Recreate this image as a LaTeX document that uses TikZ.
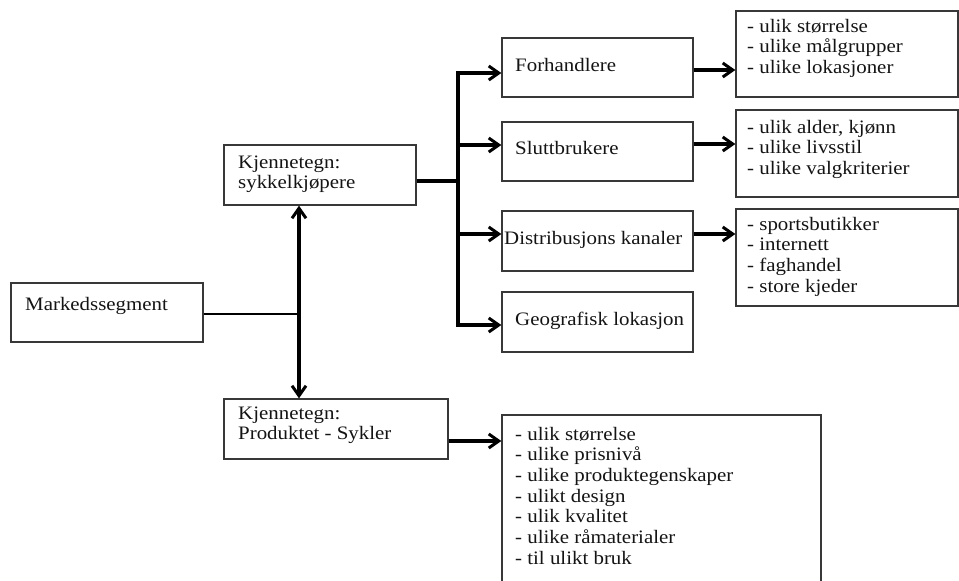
\documentclass[tikz,border=0pt]{standalone}
\usepackage{fontspec}
\setmainfont{Liberation Serif}[FakeStretch=1.1]
\usetikzlibrary{arrows.meta,shadows}

% multi-line text whose reference point is the baseline of its first line
\newcommand{\lines}[1]{\begin{tabular}[t]{@{}l@{}}#1\end{tabular}}

\begin{document}
\begin{tikzpicture}[x=1pt,y=-1pt,
  box/.style={rectangle, draw=black!78, line width=1.3pt, fill=white, inner sep=0pt,
    drop shadow={shadow xshift=1.4pt, shadow yshift=-1.4pt, opacity=0.25}},
  txt/.style={anchor=base west, inner sep=0pt, text=black!92, font=\fontsize{19}{20.7}\selectfont},
  tip/.tip={Straight Barb[length=10pt,width=14pt,line width=3pt]},
  link/.style={draw=black, line width=3.2pt},
  arr/.style={link, -tip},
  dbl/.style={link, tip-tip},
]
\useasboundingbox (0,0) rectangle (959,581);
\clip (0,0) rectangle (959,581);

% boxes
\node[box, minimum width=192pt, minimum height=59pt] (mark) at (107,312.5) {};
\node[box, minimum width=192pt, minimum height=60pt] (syk)  at (320,175) {};
\node[box, minimum width=224pt, minimum height=60pt] (prod) at (336,429) {};
\node[box, minimum width=191pt, minimum height=59pt] (forh) at (597.5,67.5) {};
\node[box, minimum width=191pt, minimum height=59pt] (slut) at (597.5,151.5) {};
\node[box, minimum width=191pt, minimum height=60pt] (dist) at (597.5,241) {};
\node[box, minimum width=191pt, minimum height=60pt] (geo)  at (597.5,322) {};
\node[box, minimum width=222pt, minimum height=86pt] (l1) at (847,54) {};
\node[box, minimum width=222pt, minimum height=87pt] (l2) at (847,153.5) {};
\node[box, minimum width=222pt, minimum height=97pt] (l3) at (847,257.5) {};
\node[box, minimum width=319pt, minimum height=185pt] (l4) at (661.5,507.5) {};

% texts
\node[txt] (markT) at (25,310) {Markedssegment};
\node[txt] (sykT)  at (238,168) {\lines{Kjennetegn:\\ sykkelkjøpere}};
\node[txt] (prodT) at (238,419) {\lines{Kjennetegn:\\ Produktet - Sykler}};
\node[txt] (forhT) at (515,71)  {Forhandlere};
\node[txt] (slutT) at (515,154) {Sluttbrukere};
\node[txt] (distT) at (504,244) {Distribusjons kanaler};
\node[txt] (geoT)  at (515,325) {Geografisk lokasjon};
\node[txt] (l1T) at (747,32)  {\lines{- ulik størrelse\\ - ulike målgrupper\\ - ulike lokasjoner}};
\node[txt] (l2T) at (747,133) {\lines{- ulik alder, kjønn\\ - ulike livsstil\\ - ulike valgkriterier}};
\node[txt] (l3T) at (747,230) {\lines{- sportsbutikker\\ - internett\\ - faghandel\\ - store kjeder}};
\node[txt] (l4T) at (515,440) {\lines{- ulik størrelse\\ - ulike prisnivå\\ - ulike produktegenskaper\\ - ulikt design\\ - ulik kvalitet\\ - ulike råmaterialer\\ - til ulikt bruk}};

% junction points
\coordinate (jm) at (299,314);
\coordinate (js) at (458,181);
\coordinate (t1) at (458,73);
\coordinate (t2) at (458,145);
\coordinate (t3) at (458,234);
\coordinate (t4) at (458,325);
\path (forh.east) ++(0,2.5)  coordinate (f1);
\path (slut.east) ++(0,-7.5) coordinate (s1);
\path (dist.east) ++(0,-7)   coordinate (d1);
\path (prod.east) ++(0,12)   coordinate (p1);

% connectors
\draw[link, line width=2.6pt] (mark.east |- jm) -- (jm);
\draw[dbl] (syk.south -| jm) -- (prod.north -| jm);
\draw[link] (syk.east |- js) -- (js);
\draw[link, line cap=rect] (t4) -- (t1);
\draw[arr] (t1) -- (forh.west |- t1);
\draw[arr] (t2) -- (slut.west |- t2);
\draw[arr] (t3) -- (dist.west |- t3);
\draw[arr] (t4) -- (geo.west |- t4);
\draw[arr] (f1) -- (f1 -| l1.west);
\draw[arr] (s1) -- (s1 -| l2.west);
\draw[arr] (d1) -- (d1 -| l3.west);
\draw[arr] (p1) -- (p1 -| l4.west);
\end{tikzpicture}
\end{document}
